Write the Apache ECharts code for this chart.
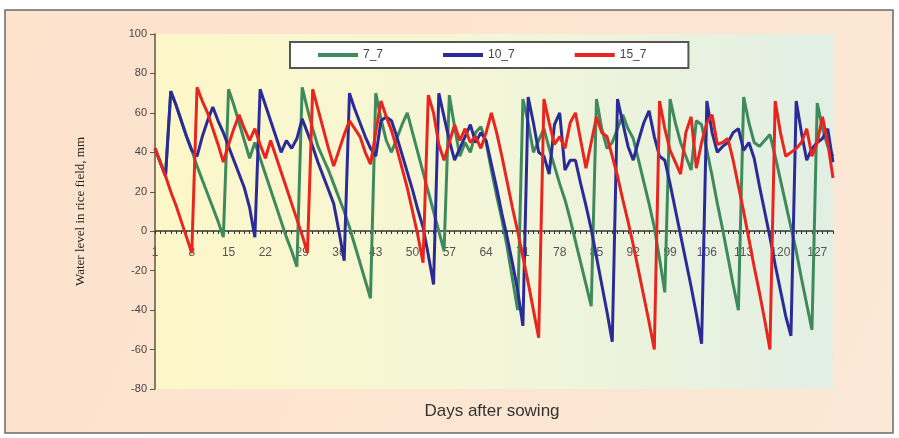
<!DOCTYPE html>
<html>
<head>
<meta charset="utf-8">
<script src="https://cdn.jsdelivr.net/npm/echarts@6.0.0/dist/echarts.min.js"></script>
<style>
  html, body { margin: 0; padding: 0; background: #fff; }
  #main { width: 899px; height: 438px; }
</style>
</head>
<body>
<div id="main"></div>
<script>
var chartDom = document.getElementById('main');
var myChart = echarts.init(chartDom);

// days 1..130
var days = [];
for (var d = 1; d <= 130; d++) days.push(String(d));

var yTicks = [-80, -60, -40, -20, 0, 20, 40, 60, 80, 100];

// water level, mm
var s7_7 = [
  42, 35, 28, 71, 64, 56, 48, 41, 33, 26,
  19, 12, 5, -3, 72, 64, 55, 46, 37, 45,
  37, 29, 21, 13, 5, -3, -10, -18, 73, 62,
  52, 43, 37, 31, 24, 17, 10, 2, -7, -16,
  -25, -34, 70, 57, 46, 40, 47, 54, 60, 50,
  40, 30, 20, 10, 0, -10, 69, 53, 38, 45,
  40, 50, 53, 45, 31, 18, 6, -8, -24, -40,
  67, 55, 40, 46, 52, 42, 33, 24, 16, 6,
  -5, -16, -27, -38, 67, 52, 42, 45, 52, 59,
  52, 47, 36, 25, 14, 2, -14, -31, 67, 55,
  45, 38, 31, 56, 54, 41, 28, 14, 1, -13,
  -27, -40, 68, 55, 45, 43, 46, 49, 38, 26,
  14, 2, -10, -24, -37, -50, 65, 52, 43, 38
];
var s10_7 = [
  42, 35, 28, 71, 64, 56, 48, 41, 38, 48,
  56, 63, 56, 50, 43, 36, 29, 22, 12, -3,
  72, 64, 56, 48, 40, 46, 42, 47, 57, 50,
  43, 35, 28, 21, 14, 0, -15, 70, 62, 55,
  48, 42, 38, 56, 58, 56, 48, 39, 30, 21,
  11, 2, -12, -27, 70, 58, 46, 36, 42, 48,
  54, 45, 50, 46, 34, 22, 9, -3, -16, -30,
  -48, 68, 55, 40, 38, 29, 54, 60, 31, 36,
  36, 24, 13, 1, -13, -27, -41, -56, 67, 55,
  43, 36, 46, 55, 61, 48, 38, 36, 24, 11,
  -2, -15, -28, -42, -57, 66, 50, 40, 43, 45,
  50, 52, 41, 45, 37, 23, 10, -3, -17, -30,
  -43, -53, 66, 50, 36, 42, 45, 47, 52, 35
];
var s15_7 = [
  42, 35, 28, 20, 13, 5, -3, -11, 73, 66,
  60, 52, 44, 35, 44, 52, 59, 52, 46, 52,
  44, 37, 46, 38, 30, 22, 14, 6, -2, -11,
  72, 62, 52, 42, 33, 41, 49, 56, 52, 48,
  40, 34, 50, 66, 58, 51, 42, 32, 22, 10,
  -2, -16, 69, 60, 44, 36, 45, 54, 46, 52,
  45, 48, 42, 50, 60, 50, 38, 25, 12, 0,
  -13, -26, -40, -54, 67, 55, 44, 48, 42, 55,
  60, 46, 32, 45, 58, 50, 48, 38, 28, 16,
  5, -7, -20, -33, -46, -60, 66, 52, 41, 35,
  29, 50, 58, 32, 45, 55, 59, 44, 45, 47,
  36, 23, 10, -4, -18, -31, -45, -60, 66, 50,
  38, 40, 42, 45, 52, 38, 45, 58, 45, 27
];

var seriesNames = ['7_7', '10_7', '15_7'];
var seriesColors = ['#3f8a5c', '#2b2b98', '#e8261f'];
var seriesData = [s7_7, s10_7, s15_7];

// grid box: value 0 sits 158px above the grid bottom
var gridTop = 34, gridBottom = 49;

var option = {
  animation: false,
  backgroundColor: 'transparent',
  textStyle: { fontFamily: 'Liberation Sans, Arial, sans-serif' },
  graphic: [
    {
      type: 'rect',
      z: -100,
      silent: true,
      shape: { x: 5, y: 10, width: 888, height: 423 },
      style: {
        fill: new echarts.graphic.LinearGradient(0, 0, 1, 1, [
          { offset: 0, color: '#fde2cc' },
          { offset: 1, color: '#fbe8d6' }
        ]),
        stroke: '#6a6a6a',
        lineWidth: 1.5
      }
    },
    {
      type: 'text',
      x: 492,
      y: 411,
      silent: true,
      style: {
        text: 'Days after sowing',
        fill: '#333',
        font: '17px Liberation Sans, Arial, sans-serif',
        textAlign: 'center',
        textVerticalAlign: 'middle'
      }
    }
  ],
  legend: {
    data: seriesNames,
    left: 290,
    top: 42,
    padding: [7, 42, 7, 28],
    itemGap: 60,
    itemWidth: 40,
    itemHeight: 4,
    icon: 'rect',
    backgroundColor: '#ffffff',
    borderColor: '#555',
    borderWidth: 2,
    textStyle: { color: '#444', fontSize: 12 }
  },
  grid: {
    left: 155,
    right: 66,
    top: gridTop,
    bottom: gridBottom,
    show: true,
    borderWidth: 0,
    backgroundColor: new echarts.graphic.LinearGradient(0, 0, 1, 0, [
      { offset: 0, color: '#fdf7c8' },
      { offset: 0.5, color: '#f3f6d8' },
      { offset: 1, color: '#e1efe4' }
    ])
  },
  xAxis: {
    type: 'category',
    data: days,
    boundaryGap: false,
    position: 'bottom',
    offset: -158,
    axisLine: { onZero: false, lineStyle: { color: '#333', width: 1.5 } },
    axisTick: { show: true, interval: 0, length: 3, lineStyle: { color: '#333' } },
    axisLabel: { interval: 6, color: '#555', fontSize: 12, margin: 16 },
    splitLine: { show: false }
  },
  yAxis: {
    type: 'value',
    min: -80,
    max: 100,
    interval: 20,
    name: 'Water level in rice field, mm',
    nameLocation: 'middle',
    nameRotate: 90,
    nameGap: 68,
    nameTextStyle: {
      fontFamily: 'Liberation Serif, Times New Roman, serif',
      fontSize: 13,
      color: '#222'
    },
    axisLine: { show: true, lineStyle: { color: '#5a5a44', width: 1.5 } },
    axisTick: { show: true, length: 5, lineStyle: { color: '#5a5a44' } },
    axisLabel: { color: '#444', fontSize: 11, margin: 8 },
    splitLine: { show: false }
  },
  series: seriesNames.map(function (name, i) {
    return {
      name: name,
      type: 'line',
      data: seriesData[i],
      showSymbol: false,
      symbol: 'none',
      color: seriesColors[i],
      lineStyle: { width: 3, color: seriesColors[i] }
    };
  })
};

option && myChart.setOption(option);
</script>
</body>
</html>
